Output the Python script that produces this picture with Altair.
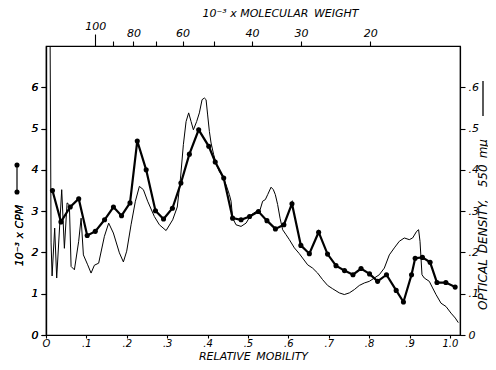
import altair as alt
import pandas as pd

# ---- data ----
# optical density trace (thin line, right axis)
mob_od = [0.005, 0.009, 0.0126, 0.0151, 0.0215, 0.0265, 0.0389, 0.0455, 0.0522, 0.0579,
          0.0621, 0.0703, 0.0809, 0.0869, 0.0926, 0.1032, 0.1116, 0.1198, 0.1304, 0.1446,
          0.1552, 0.1668, 0.1817, 0.1916, 0.1998, 0.2106, 0.2213, 0.2312, 0.2411, 0.2517,
          0.2683, 0.2807, 0.2973, 0.3136, 0.3250, 0.3330, 0.3401, 0.3468, 0.3532, 0.3592,
          0.3649, 0.3730, 0.3797, 0.3864, 0.3921, 0.3963, 0.4002, 0.4045, 0.4087, 0.4151,
          0.4225, 0.4292, 0.4374, 0.4458, 0.4540, 0.4582, 0.4621, 0.4705, 0.4829, 0.4953,
          0.5077, 0.5200, 0.5300, 0.5364, 0.5431, 0.5488, 0.5572, 0.5629, 0.5678, 0.5735,
          0.5795, 0.5859, 0.5943, 0.6025, 0.6149, 0.6272, 0.6371, 0.6478, 0.6601, 0.6725,
          0.6849, 0.6973, 0.7097, 0.7262, 0.7386, 0.7510, 0.7634, 0.7757, 0.7881, 0.8005,
          0.8129, 0.8252, 0.8376, 0.8500, 0.8624, 0.8748, 0.8871, 0.8995, 0.9077, 0.9176,
          0.9225, 0.9260, 0.9309, 0.9366, 0.9490, 0.9572, 0.9656, 0.9780, 0.9903, 1.0027,
          1.0134, 1.0208]
od_vals = [0.95, 0.95, 0.223, 0.143, 0.259, 0.138, 0.352, 0.210, 0.320, 0.315,
           0.166, 0.158, 0.227, 0.283, 0.194, 0.170, 0.150, 0.169, 0.174, 0.239,
           0.271, 0.247, 0.199, 0.177, 0.203, 0.267, 0.324, 0.360, 0.352, 0.324,
           0.287, 0.267, 0.253, 0.279, 0.310, 0.380, 0.461, 0.517, 0.538, 0.517,
           0.497, 0.517, 0.538, 0.570, 0.574, 0.570, 0.533, 0.493, 0.465, 0.437,
           0.412, 0.396, 0.384, 0.364, 0.340, 0.324, 0.283, 0.267, 0.263, 0.271,
           0.291, 0.299, 0.303, 0.324, 0.328, 0.340, 0.358, 0.352, 0.340, 0.316,
           0.283, 0.255, 0.243, 0.231, 0.211, 0.197, 0.184, 0.170, 0.162, 0.150,
           0.134, 0.120, 0.112, 0.102, 0.098, 0.102, 0.110, 0.120, 0.126, 0.130,
           0.138, 0.146, 0.162, 0.194, 0.211, 0.227, 0.235, 0.231, 0.235, 0.251,
           0.255, 0.227, 0.146, 0.138, 0.130, 0.114, 0.098, 0.077, 0.069, 0.053,
           0.041, 0.030]

# radioactivity (thick line with dots, left axis), 10^-3 x CPM
mob_cpm = [0.016, 0.037, 0.060, 0.081, 0.102, 0.122, 0.145, 0.167, 0.187, 0.208,
           0.226, 0.248, 0.271, 0.291, 0.313, 0.334, 0.355, 0.378, 0.403, 0.419,
           0.440, 0.462, 0.483, 0.504, 0.526, 0.547, 0.568, 0.589, 0.609,
           0.631, 0.652, 0.675, 0.697, 0.718, 0.739, 0.760, 0.780, 0.801, 0.821,
           0.843, 0.867, 0.885, 0.905, 0.914, 0.932, 0.951, 0.968, 0.990, 1.013]
cpm_vals = [3.50, 2.74, 3.10, 3.30, 2.41, 2.51, 2.79, 3.10, 2.89, 3.20,
            4.70, 4.00, 3.01, 2.81, 3.07, 3.68, 4.38, 4.97, 4.57, 4.19,
            3.80, 2.83, 2.79, 2.87, 2.99, 2.77, 2.57, 2.67, 3.18,
            2.17, 1.97, 2.49, 1.96, 1.68, 1.56, 1.46, 1.61, 1.48, 1.30,
            1.46, 1.08, 0.80, 1.46, 1.86, 1.88, 1.76, 1.27, 1.27, 1.16]

# axis ticks / labels
x_ticks = [0, 0.1, 0.2, 0.3, 0.4, 0.5, 0.6, 0.7, 0.8, 0.9, 1.0]
x_tick_labels = ["O", ".1", ".2", ".3", ".4", ".5", ".6", ".7", ".8", ".9", "1.0"]
cpm_ticks = [0, 1, 2, 3, 4, 5, 6]
od_ticks = [0, 0.1, 0.2, 0.3, 0.4, 0.5, 0.6]
od_tick_labels = ["0", ".1", ".2", ".3", ".4", ".5", ".6"]
mw_ticks = [100, 90, 80, 70, 60, 50, 40, 30, 20]
mw_labelled = [100, 80, 60, 40, 30, 20]

df_od = pd.DataFrame({"mob": mob_od, "od": od_vals})
df_cpm = pd.DataFrame({"mob": mob_cpm, "cpm": cpm_vals})
df_mw = pd.DataFrame({"mw": mw_ticks})

FONT = "DejaVu Sans"
W, H = 414, 289
xdom = [0, 1.025]
SP = "\u2002"

def js_arr(lst):
    return "[" + ",".join("'" + s + "'" for s in lst) + "]"

x_label_expr = js_arr(x_tick_labels) + "[round(datum.value*10)]"
od_label_expr = js_arr(od_tick_labels) + "[round(datum.value*10)]"
mw_label_expr = "indexof(" + str(mw_labelled) + ", datum.value) >= 0 ? datum.label : ''"

od_line = alt.Chart(df_od).mark_line(color="black", strokeWidth=1.0, clip=True).encode(
    x=alt.X("mob:Q", scale=alt.Scale(domain=xdom, nice=False, zero=False),
            axis=alt.Axis(values=x_ticks, labelExpr=x_label_expr, labelFontSize=10,
                          title="RELATIVE" + SP + "MOBILITY", titleFontSize=11,
                          tickSize=3, labelPadding=0, titleY=21, titleBaseline="middle",
                          labelFlush=False)),
    y=alt.Y("od:Q", scale=alt.Scale(domain=[0, 0.7], nice=False),
            axis=alt.Axis(orient="right", values=od_ticks, labelExpr=od_label_expr,
                          title="OPTICAL" + SP + "DENSITY," + SP + SP + "550" + SP + "mμ",
                          titleAngle=270,
                          titleX=22, titleY=178, titleAlign="center", titleBaseline="middle",
                          titleFontSize=12, tickSize=5, labelPadding=3)),
)

cpm_base = alt.Chart(df_cpm).encode(
    x=alt.X("mob:Q", scale=alt.Scale(domain=xdom, nice=False, zero=False), axis=None),
    y=alt.Y("cpm:Q", scale=alt.Scale(domain=[0, 7], nice=False),
            axis=alt.Axis(orient="left", values=cpm_ticks, title="10⁻³ x CPM",
                          titleAngle=270, titleX=-27, titleY=189, titleAlign="center",
                          titleBaseline="middle", tickSize=5, labelPadding=3)),
)
cpm_line = cpm_base.mark_line(color="black", strokeWidth=2.2)
cpm_pts = cpm_base.mark_point(color="black", filled=True, size=26, opacity=1)

mw_axis = alt.Chart(df_mw).mark_point(opacity=0).encode(
    x=alt.X("mw:Q", scale=alt.Scale(type="log", domain=[133.5, 11.83], nice=False),
            axis=alt.Axis(orient="top", values=mw_ticks, labelExpr=mw_label_expr,
                          title="10⁻³ x MOLECULAR" + SP + "WEIGHT", titleX=234, titleY=-33,
                          titleAlign="center", titleBaseline="middle",
                          tickSize={"condition": {"test": "datum.value == 100", "value": 12}, "value": 5},
                          labelPadding=3)),
)

dummy = alt.Data(values=[{"a": 1}])
icon_rule = alt.Chart(dummy).mark_rule(color="black", strokeWidth=1.2).encode(
    x=alt.value(-29), y=alt.value(119), y2=alt.value(146))
icon_dot1 = alt.Chart(dummy).mark_point(color="black", filled=True, size=26, opacity=1).encode(
    x=alt.value(-29), y=alt.value(119))
icon_dot2 = alt.Chart(dummy).mark_point(color="black", filled=True, size=26, opacity=1).encode(
    x=alt.value(-29), y=alt.value(146))
icon_od = alt.Chart(dummy).mark_rule(color="black", strokeWidth=1.3).encode(
    x=alt.value(437), y=alt.value(35), y2=alt.value(70))

chart = alt.layer(
    od_line, cpm_line, cpm_pts, mw_axis, icon_rule, icon_dot1, icon_dot2, icon_od
).resolve_scale(x="independent", y="independent").properties(
    width=W, height=H,
    autosize=alt.AutoSizeParams(type="none"),
    padding={"left": 38, "top": 38, "right": 28, "bottom": 27},
).configure_view(stroke="black", strokeWidth=1.2).configure_axis(
    grid=False, domainColor="black", tickColor="black", labelColor="black", titleColor="black",
    labelFont=FONT, titleFont=FONT, labelFontSize=11, titleFontSize=11,
    labelFontStyle="italic", titleFontStyle="italic", titleFontWeight="normal",
    domainWidth=1.2, tickWidth=1.1,
)

chart.save("out.html", embed_options={"renderer": "svg", "actions": False})
